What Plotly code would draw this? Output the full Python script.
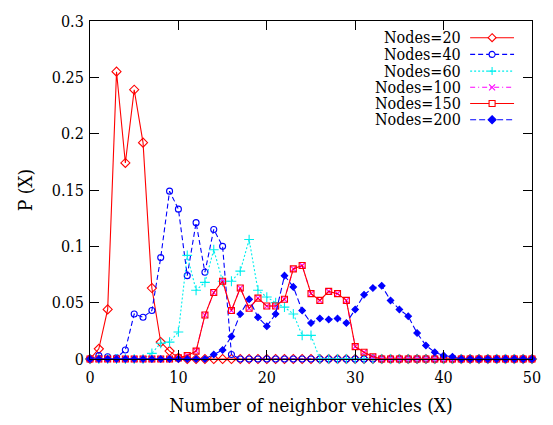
import plotly.graph_objects as go

x_vals = list(range(0, 51))

nodes20 = [0, 0.009, 0.044, 0.255, 0.174, 0.239, 0.192, 0.063, 0.015, 0.007,
           0.001] + [0] * 40
nodes40 = [0, 0.003, 0.002, 0.001, 0.008, 0.040, 0.037, 0.043, 0.090, 0.149,
           0.133, 0.074, 0.121, 0.077, 0.115, 0.100, 0.004] + [0] * 34
nodes60 = [0, 0, 0, 0, 0, 0, 0, 0.005, 0.014, 0.015,
           0.024, 0.092, 0.061, 0.068, 0.097, 0.069, 0.069, 0.078, 0.106, 0.061,
           0.055, 0.050, 0.046, 0.040, 0.021, 0.021] + [0] * 25
nodes150 = [0] * 10 + [0.001, 0.003, 0.007, 0.039, 0.059, 0.069, 0.043, 0.063, 0.045, 0.054,
                       0.047, 0.047, 0.053, 0.080, 0.083, 0.058, 0.052, 0.060, 0.058, 0.052,
                       0.011, 0.006, 0.002] + [0] * 18
nodes100 = list(nodes150)
nodes200 = [0] * 14 + [0.004, 0.008, 0.020, 0.040, 0.053, 0.037,
                       0.029, 0.040, 0.074, 0.064, 0.043, 0.032, 0.036, 0.035, 0.036, 0.032,
                       0.044, 0.057, 0.063, 0.065, 0.052, 0.044, 0.038, 0.023, 0.012, 0.006,
                       0.003, 0.002] + [0] * 9

names = ["Nodes=20", "Nodes=40", "Nodes=60", "Nodes=100", "Nodes=150", "Nodes=200"]
series = [nodes20, nodes40, nodes60, nodes100, nodes150, nodes200]
colors = ["#ff0000", "#0000ff", "#00eeee", "#ff00ff", "#ff0000", "#0000ff"]
dashes = ["solid", "5px,3px", "2px,2px", "5px,3px,1px,3px", "solid", "6px,3px"]
symbols = ["diamond-open", "circle-open", "cross-thin-open", "x-thin-open", "square-open", "diamond"]
msizes = [7, 6, 7, 6, 6, 5]

FONT = "DejaVu Serif Condensed, DejaVu Serif"

fig = go.Figure()
for nm, ys, c, d, s, ms in zip(names, series, colors, dashes, symbols, msizes):
    fig.add_trace(go.Scatter(
        x=x_vals, y=ys, name=nm, mode="lines+markers",
        line=dict(color=c, width=1.1, dash=d),
        marker=dict(symbol=s, size=ms, color=c, line=dict(color=c, width=1.1)),
        cliponaxis=False, showlegend=False))

plot_l, plot_r, plot_t, plot_b = 90, 533, 18, 362
W = plot_r - plot_l
H = plot_b - plot_t
def px2x(px):
    return (px - plot_l) / W
def py2y(py):
    return (plot_b - py) / H

row_py = [35, 52, 69, 85.5, 102, 118.5]
shapes = []
annotations = []
marker_paths = [
    "M 0,4 L 4,0 L 0,-4 L -4,0 Z",
    None,
    "M -4,0 L 4,0 M 0,-4 L 0,4",
    "M -3,-3 L 3,3 M -3,3 L 3,-3",
    None,
    "M 0,4 L 4,0 L 0,-4 L -4,0 Z",
]
for i, (nm, c, d) in enumerate(zip(names, colors, dashes)):
    yy = py2y(row_py[i])
    annotations.append(dict(text=nm, x=px2x(464), y=yy, xref="paper", yref="paper",
                            xanchor="right", yanchor="middle", showarrow=False,
                            font=dict(family=FONT, size=16, color="black")))
    shapes.append(dict(type="line", xref="paper", yref="paper", x0=px2x(471), x1=px2x(515),
                       y0=yy, y1=yy, line=dict(color=c, width=1.1, dash=d)))
    xa = px2x(493)
    if i == 1:
        shapes.append(dict(type="circle", xref="paper", yref="paper", xsizemode="pixel",
                           ysizemode="pixel", xanchor=xa, yanchor=yy, x0=-3, x1=3,
                           y0=-3, y1=3, line=dict(color=c, width=1.1), fillcolor="white"))
    elif i == 4:
        shapes.append(dict(type="rect", xref="paper", yref="paper", xsizemode="pixel",
                           ysizemode="pixel", xanchor=xa, yanchor=yy, x0=-3, x1=3,
                           y0=-3, y1=3, line=dict(color=c, width=1.1), fillcolor="white"))
    else:
        fill = c if i == 5 else ("white" if i == 0 else None)
        sh = dict(type="path", xref="paper", yref="paper", xsizemode="pixel",
                  ysizemode="pixel", xanchor=xa, yanchor=yy, path=marker_paths[i],
                  line=dict(color=c, width=1.1))
        if fill:
            sh["fillcolor"] = fill
        shapes.append(sh)

axis_common = dict(showline=True, linecolor="black", linewidth=1, mirror="ticks",
                   ticks="inside", ticklen=9, tickcolor="black", tickwidth=1,
                   showgrid=False, zeroline=False,
                   tickfont=dict(family=FONT, size=16, color="black"))

fig.update_layout(
    width=553, height=425,
    margin=dict(l=plot_l, r=553 - plot_r, t=plot_t, b=425 - plot_b),
    paper_bgcolor="white", plot_bgcolor="white",
    font=dict(family=FONT, color="black"),
    shapes=shapes, annotations=annotations,
    xaxis=dict(range=[0, 50], dtick=10, tick0=0, ticklabelstandoff=4,
               title=dict(text="Number of neighbor vehicles (X)",
                          font=dict(family=FONT, size=19, color="black"), standoff=12),
               **axis_common),
    yaxis=dict(range=[0, 0.3], dtick=0.05, tick0=0, ticklabelstandoff=2,
               title=dict(text="P (X)", font=dict(family=FONT, size=19, color="black"), standoff=14),
               **axis_common),
)

fig.write_html("out.html")
